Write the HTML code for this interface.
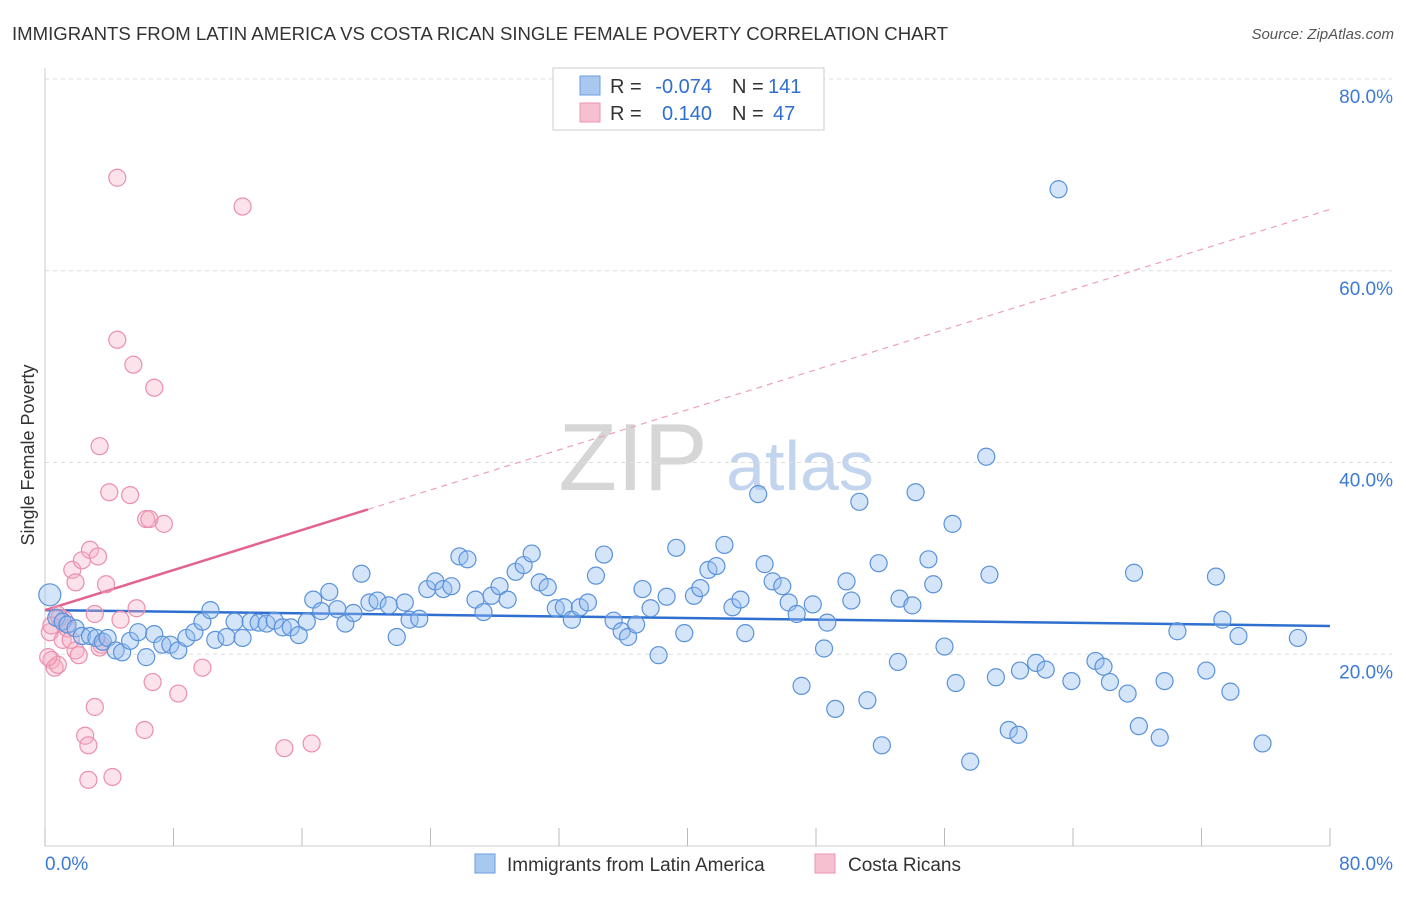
<!DOCTYPE html>
<html><head><meta charset="utf-8"><style>
body{margin:0;background:#fff;font-family:"Liberation Sans",sans-serif;}
svg text{font-family:"Liberation Sans",sans-serif;}
</style></head><body>
<svg id="chart" width="1406" height="892" viewBox="0 0 1406 892">
<text x="12" y="40" font-size="18.5" fill="#333" textLength="936" lengthAdjust="spacingAndGlyphs">IMMIGRANTS FROM LATIN AMERICA VS COSTA RICAN SINGLE FEMALE POVERTY CORRELATION CHART</text>
<text x="1394" y="39" font-size="15" fill="#555" font-style="italic" text-anchor="end">Source: ZipAtlas.com</text>
<g>
<text x="633" y="490" font-size="96" fill="#d6d6d6" font-family="Liberation Serif,serif" text-anchor="middle">ZIP</text>
<text x="800" y="490" font-size="70" fill="#c3d5ee" text-anchor="middle">atlas</text>
</g>
<g id="grid"></g>
<g id="axes"></g>
<g id="trends"></g>
<g id="points"></g>
<text transform="translate(34,455) rotate(-90)" font-size="18" fill="#333" text-anchor="middle">Single Female Poverty</text>
<g>
<rect x="553" y="68" width="271" height="62" fill="#fff" stroke="#ccc"/>
<rect x="580" y="76" width="20" height="19" fill="#a9c8f0" stroke="#6a9ee0"/>
<rect x="580" y="103" width="20" height="19" fill="#f7c0d0" stroke="#eb95b0"/>
<text x="610" y="93" font-size="20" fill="#333">R =</text>
<text x="712" y="93" font-size="20" fill="#2f6fd0" text-anchor="end">-0.074</text>
<text x="732" y="93" font-size="20" fill="#333">N =</text>
<text x="768" y="93" font-size="20" fill="#2f6fd0">141</text>
<text x="610" y="120" font-size="20" fill="#333">R =</text>
<text x="712" y="120" font-size="20" fill="#2f6fd0" text-anchor="end">0.140</text>
<text x="732" y="120" font-size="20" fill="#333">N =</text>
<text x="773" y="120" font-size="20" fill="#2f6fd0">47</text>
</g>
<g>
<rect x="475" y="854" width="20" height="19" fill="#a9c8f0" stroke="#6a9ee0"/>
<text x="507" y="871" font-size="19" fill="#333">Immigrants from Latin America</text>
<rect x="815" y="854" width="20" height="19" fill="#f7c0d0" stroke="#eb95b0"/>
<text x="848" y="871" font-size="19" fill="#333">Costa Ricans</text>
</g>
</svg>
<script>
const blueX=[0.3,0.7,1.1,1.4,1.9,2.3,2.8,3.2,3.6,3.9,4.4,4.8,5.3,5.8,6.3,6.8,7.3,7.8,8.3,8.8,9.3,9.8,10.3,10.6,11.3,11.8,12.3,12.8,13.3,13.8,14.3,14.8,15.3,15.8,16.3,16.7,17.2,17.7,18.2,18.7,19.2,19.7,20.2,20.7,21.4,21.9,22.4,22.7,23.3,23.8,24.3,24.8,25.3,25.8,26.3,26.8,27.3,27.8,28.3,28.8,29.3,29.8,30.3,30.8,31.3,31.8,32.3,32.8,33.3,33.8,34.3,34.8,35.4,35.9,36.3,36.8,37.2,37.7,38.2,38.7,39.3,39.8,40.4,40.8,41.3,41.8,42.3,42.8,43.3,43.6,44.4,44.8,45.3,45.9,46.3,46.8,47.1,47.8,48.5,48.7,49.2,49.9,50.2,50.7,51.2,51.9,52.1,53.1,53.2,54.0,54.2,55.0,55.3,56.0,56.5,56.7,57.6,58.6,58.8,59.2,60.0,60.6,60.7,61.7,62.3,63.1,63.9,65.4,65.9,66.3,67.4,67.8,68.1,69.4,69.7,70.5,72.3,72.9,73.3,73.8,74.3,75.8,78.0];
const blueY=[26.2,23.8,23.4,23.1,22.7,21.9,21.9,21.7,21.3,21.7,20.4,20.2,21.4,22.3,19.7,22.1,21.0,21.0,20.4,21.7,22.3,23.4,24.6,21.5,21.8,23.4,21.7,23.4,23.3,23.2,23.5,22.8,22.8,22.0,23.4,25.7,24.5,26.5,24.7,23.2,24.3,28.4,25.4,25.6,25.1,21.8,25.4,23.6,23.7,26.8,27.6,26.8,27.1,30.2,29.9,25.7,24.4,26.1,27.1,25.7,28.6,29.3,30.5,27.5,27.0,24.8,24.9,23.6,24.9,25.4,28.2,30.4,23.5,22.4,21.8,23.1,26.8,24.8,19.9,26.0,31.1,22.2,26.1,26.9,28.8,29.2,31.4,24.9,25.7,22.2,36.7,29.4,27.6,27.1,25.4,24.2,16.7,25.2,20.6,23.3,14.3,27.6,25.6,35.9,15.2,29.5,10.5,19.2,25.8,25.1,36.9,29.9,27.3,20.8,33.6,17.0,8.8,40.6,28.3,17.6,12.1,11.6,18.3,19.1,18.4,68.5,17.2,19.3,18.7,17.1,15.9,28.5,12.5,11.3,17.2,22.4,18.3,28.1,23.6,16.1,21.9,10.7,21.7];
const pinkX=[0.3,0.4,0.6,0.8,1.1,1.2,1.4,1.7,1.9,1.9,2.1,2.3,2.5,2.7,2.7,2.8,3.1,3.1,3.3,3.4,3.5,3.8,4.0,4.2,4.5,4.5,4.7,5.3,5.5,5.7,6.2,6.3,6.5,6.7,6.8,7.4,8.3,9.8,12.3,14.9,16.6,0.8,0.2,0.9,1.6,3.4,0.4];
const pinkY=[22.3,19.4,18.6,18.9,21.5,23.6,22.7,28.8,27.5,20.4,19.9,29.8,11.5,10.5,6.9,30.9,24.2,14.5,30.2,41.7,21.0,27.3,36.9,7.2,69.7,52.8,23.6,36.6,50.2,24.8,12.1,34.1,34.1,17.1,47.8,33.6,15.9,18.6,66.7,10.2,10.7,24.1,19.7,23.8,21.5,20.7,23.0];
const blueTrend=[24.6,22.95];
const pinkTrend=[24.6,66.4];
const pinkSolidEnd=20.1;
const yTicks=[20,40,60,80];
const xTicks=[0,10,20,30,40,50,60,70,80];
const NS='http://www.w3.org/2000/svg';
const X0=45,X1=1330,Y0=846,Y80=79;
const sx=v=>X0+(v/80)*(X1-X0);
const sy=v=>Y0-(v/80)*(Y0-Y80);
function mk(tag,attrs,parent){const e=document.createElementNS(NS,tag);for(const k in attrs)e.setAttribute(k,attrs[k]);document.getElementById(parent).appendChild(e);return e;}
yTicks.forEach(t=>{
 const l=mk('line',{x1:X0,x2:1392,y1:sy(t),y2:sy(t),stroke:'#ddd','stroke-dasharray':'4,4'},'grid');
 
 
 const tx=mk('text',{x:1393,y:sy(t)+24,'font-size':19,fill:'#3b7ad6','text-anchor':'end'},'grid');
 tx.textContent=t.toFixed(1)+'%';
 
 
});
const ax=mk('line',{x1:X0,x2:X0,y1:68,y2:Y0,stroke:'#ccc'},'axes');


const bx=mk('line',{x1:X0,x2:X1,y1:Y0,y2:Y0,stroke:'#ccc'},'axes');


for(let i=0;i<=10;i++){
 const v=i*8;
 const t=mk('line',{x1:sx(v),x2:sx(v),y1:828,y2:Y0,stroke:'#bbb'},'axes');
 
 
}
[[0,'start'],[80,'end']].forEach(([v,a])=>{
 const t=mk('text',{x:v===0?45:1393,y:870,'font-size':19,fill:'#3b7ad6','text-anchor':a},'axes');
 t.textContent=v.toFixed(1)+'%';
 
 
});
const bl=mk('line',{x1:sx(0),y1:sy(blueTrend[0]),x2:sx(80),y2:sy(blueTrend[1]),stroke:'#2f6fd0','stroke-width':2.5},'trends');


const pyAt=x=>pinkTrend[0]+(pinkTrend[1]-pinkTrend[0])*x/80;
const pd=mk('line',{x1:sx(pinkSolidEnd),y1:sy(pyAt(pinkSolidEnd)),x2:sx(80),y2:sy(pinkTrend[1]),stroke:'#eea0b8','stroke-width':1.2,'stroke-dasharray':'6,5'},'trends');


const ps=mk('line',{x1:sx(0),y1:sy(pinkTrend[0]),x2:sx(pinkSolidEnd),y2:sy(pyAt(pinkSolidEnd)),stroke:'#e2638f','stroke-width':2.5},'trends');


pinkX.forEach((x,i)=>{
 const c=mk('circle',{cx:sx(x),cy:sy(pinkY[i]),r:8.5,fill:'rgba(246,172,196,0.35)',stroke:'#eb8fae','stroke-width':1.2},'points');
 
 
});
blueX.forEach((x,i)=>{
 const c=mk('circle',{cx:sx(x),cy:sy(blueY[i]),r:i===0?11:8.5,fill:'rgba(150,190,240,0.4)',stroke:'#5a92da','stroke-width':1.2},'points');
 
 
});
</script>
</body></html>
